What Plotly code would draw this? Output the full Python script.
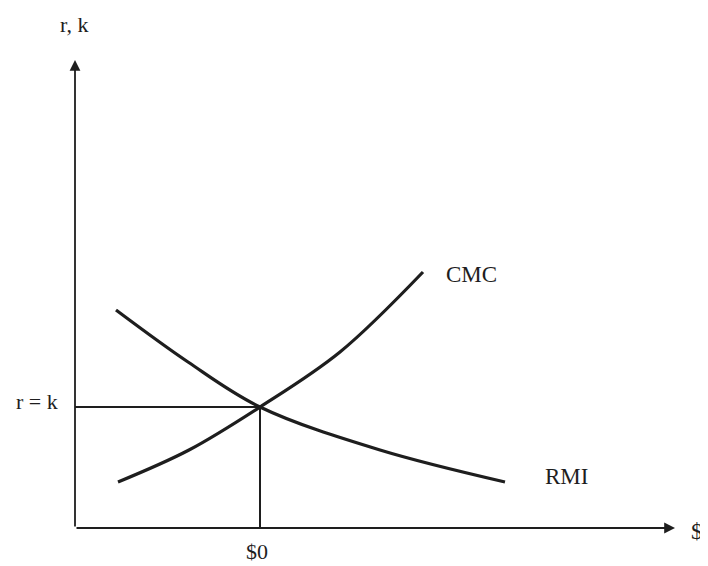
import plotly.graph_objects as go

# Data (pixel-offset style units; origin at axes corner)
cmc_x = [43, 114, 185, 265, 348]
cmc_y = [46, 78, 121, 176, 256]
rmi_x = [41, 113, 185, 305, 430]
rmi_y = [218, 166, 121, 78, 46]
eq_x = 185
eq_y = 121
x_max = 600
y_max = 468

ink = "#1e1e1e"
serif = "Liberation Serif, Times New Roman, serif"

fig = go.Figure()
fig.add_trace(go.Scatter(x=cmc_x, y=cmc_y, mode="lines", line=dict(color=ink, width=3.2, shape="spline"), cliponaxis=False))
fig.add_trace(go.Scatter(x=rmi_x, y=rmi_y, mode="lines", line=dict(color=ink, width=3.2, shape="spline"), cliponaxis=False))
fig.add_trace(go.Scatter(x=[0, eq_x, eq_x], y=[eq_y, eq_y, 0], mode="lines", line=dict(color=ink, width=2), cliponaxis=False))

ann = []
# axes with arrows
ann.append(dict(x=x_max, y=0, ax=0, ay=0, xref="x", yref="y", axref="x", ayref="y", showarrow=True,
                arrowhead=2, arrowsize=1.2, arrowwidth=1.8, arrowcolor=ink, text=""))
ann.append(dict(x=0, y=y_max, ax=0, ay=0, xref="x", yref="y", axref="x", ayref="y", showarrow=True,
                arrowhead=2, arrowsize=1.2, arrowwidth=1.8, arrowcolor=ink, text=""))

def label(t, x, y, size=18):
    ann.append(dict(x=x / x_max, y=y / y_max, xref="paper", yref="paper", text=t, showarrow=False,
                    font=dict(family=serif, size=size, color=ink), xanchor="center", yanchor="middle"))

label("r, k", -1, 504, 22)
label("r = k", -38, 127, 22)
label("$0", 182, -23, 22)
label("$", 622, -3, 23)
label("CMC", 396, 254, 23)
label("RMI", 491, 52, 23)

fig.update_layout(
    width=700, height=558,
    margin=dict(l=67, r=33, t=52, b=38),
    paper_bgcolor="white", plot_bgcolor="white",
    showlegend=False,
    xaxis=dict(range=[0, x_max], visible=False, fixedrange=True),
    yaxis=dict(range=[0, y_max], visible=False, fixedrange=True),
    annotations=ann,
)
fig.write_html("out.html")
